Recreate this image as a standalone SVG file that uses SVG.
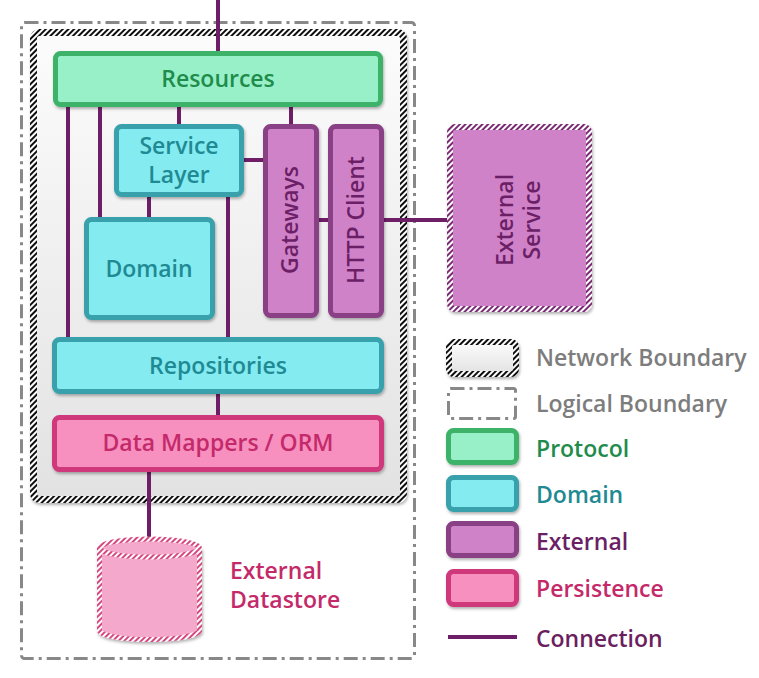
<svg xmlns="http://www.w3.org/2000/svg" width="759" height="678" viewBox="0 0 759 678">
<defs>
<pattern id="hBlack" width="4" height="4" patternUnits="userSpaceOnUse" patternTransform="rotate(45)"><rect width="4" height="4" fill="#fff"/><rect width="2" height="4" fill="#111"/></pattern>
<pattern id="hPurple" width="4" height="4" patternUnits="userSpaceOnUse" patternTransform="rotate(45)"><rect width="4" height="4" fill="#fff"/><rect width="2" height="4" fill="#7a2c74"/></pattern>
<pattern id="hPink" width="4" height="4" patternUnits="userSpaceOnUse" patternTransform="rotate(45)"><rect width="4" height="4" fill="#fff"/><rect width="2" height="4" fill="#d4477f"/></pattern>
<linearGradient id="gray" x1="0" y1="0" x2="0" y2="1"><stop offset="0" stop-color="#fcfcfc"/><stop offset="1" stop-color="#e2e2e2"/></linearGradient>
<filter id="sh" x="-10%" y="-10%" width="130%" height="130%"><feDropShadow dx="1" dy="2" stdDeviation="1.5" flood-color="#000" flood-opacity="0.3"/></filter>
</defs>
<style>
text{font-family:"Open Sans","Noto Sans","DejaVu Sans",sans-serif;font-weight:600;font-size:23px}
.c{text-anchor:middle}
.proto{fill:#98f0c8;stroke:#3db36b;stroke-width:5}
.dom{fill:#84ebf0;stroke:#38a1ab;stroke-width:5}
.ext{fill:#d082c8;stroke:#8a3f85;stroke-width:5}
.pers{fill:#f78fbf;stroke:#cf387a;stroke-width:5}
.tp{fill:#1f8c4c}.td{fill:#1f8a93}.te{fill:#6b1f66}.tr{fill:#c42a6a}.tg{fill:#7d7d7d}.tc{fill:#6b1f5f}
.logical{fill:none;stroke:#888;stroke-width:3;stroke-dasharray:14 5 3 5}
.conn{fill:none;stroke:#6e1e66;stroke-width:4}
</style>
<g id="logical-boundary"><rect class="logical" x="21.5" y="22.5" width="393" height="636" rx="3"/></g>
<g id="network-boundary"><rect x="33.5" y="32.5" width="370" height="467" rx="6" fill="url(#gray)" stroke="url(#hBlack)" stroke-width="7" filter="url(#sh)"/></g>
<g id="connectors">
<path class="conn" d="M218,0V53M68,105V339M100,105V219M179,105V126M291,105V126M242,160H265M149,195V219M228,195V339M317,220H330M382,220H450M218,392V417M149,470V540"/>
</g>
<g id="resources"><rect class="proto" x="55.5" y="53.5" width="325" height="51" rx="5" filter="url(#sh)"/><text class="c tp" x="218" y="87">Resources</text></g>
<g id="service-layer"><rect class="dom" x="116.5" y="126.5" width="125" height="68" rx="5" filter="url(#sh)"/><text class="c td" x="179" y="154">Service</text><text class="c td" x="179" y="183">Layer</text></g>
<g id="gateways"><rect class="ext" x="265.5" y="126.5" width="51" height="189" rx="5" filter="url(#sh)"/><text class="c te" transform="translate(291,220) rotate(-90)" y="7">Gateways</text></g>
<g id="http-client"><rect class="ext" x="330.5" y="126.5" width="51" height="189" rx="5" filter="url(#sh)"/><text class="c te" transform="translate(356,220) rotate(-90)" y="8">HTTP Client</text></g>
<g id="domain"><rect class="dom" x="86.5" y="219.5" width="126" height="98" rx="5" filter="url(#sh)"/><text class="c td" x="149" y="277">Domain</text></g>
<g id="repositories"><rect class="dom" x="54.5" y="339.5" width="327" height="52" rx="5" filter="url(#sh)"/><text class="c td" x="218" y="374">Repositories</text></g>
<g id="data-mappers"><rect class="pers" x="54.5" y="417.5" width="327" height="52" rx="5" filter="url(#sh)"/><text class="c tr" x="218" y="451">Data Mappers / ORM</text></g>
<g id="external-service"><rect x="450" y="127" width="139" height="182" rx="5" fill="#d082c8" stroke="url(#hPurple)" stroke-width="6" filter="url(#sh)"/><g transform="translate(518,220) rotate(-90)"><text class="c te" y="-5">External</text><text class="c te" y="22">Service</text></g></g>
<g id="external-datastore"><path d="M99.5,548V630.5A50,9 0 0 0 199.5,630.5V548" fill="#f4a8cc" stroke="url(#hPink)" stroke-width="5" filter="url(#sh)"/><ellipse cx="149.5" cy="548" rx="50" ry="9" fill="#f4a8cc" stroke="url(#hPink)" stroke-width="5"/><text class="tr" x="230" y="579">External</text><text class="tr" x="230" y="608">Datastore</text></g>
<g id="legend">
<rect x="449" y="342" width="67" height="32" rx="5" fill="url(#gray)" stroke="url(#hBlack)" stroke-width="6" filter="url(#sh)"/><text class="tg" x="536" y="366">Network Boundary</text>
<rect class="logical" x="448.5" y="388.5" width="67" height="30" rx="2"/><text class="tg" x="536" y="412">Logical Boundary</text>
<rect class="proto" x="448.5" y="430.5" width="68" height="32" rx="5" filter="url(#sh)"/><text class="tp" x="536" y="457">Protocol</text>
<rect class="dom" x="448.5" y="477.5" width="68" height="32" rx="5" filter="url(#sh)"/><text class="td" x="536" y="503">Domain</text>
<rect class="ext" x="448.5" y="523.5" width="68" height="32" rx="5" filter="url(#sh)"/><text class="te" x="536" y="550">External</text>
<rect class="pers" x="448.5" y="571.5" width="68" height="33" rx="5" filter="url(#sh)"/><text class="tr" x="536" y="597">Persistence</text>
<path class="conn" d="M448,637H517"/><text class="tc" x="536" y="647">Connection</text>
</g>
</svg>
